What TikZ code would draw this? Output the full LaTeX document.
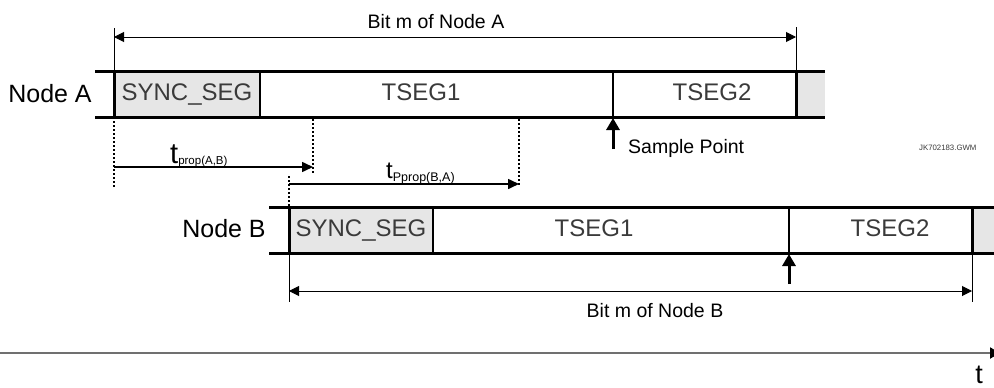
\documentclass[tikz,border=0pt]{standalone}
\usepackage{fontspec}
\setmainfont{Liberation Sans}
\usetikzlibrary{arrows.meta}
\definecolor{segGray}{HTML}{E6E6E6}
\definecolor{segText}{HTML}{3A3A3A}
\definecolor{axisGray}{HTML}{707070}
\begin{document}
\begin{tikzpicture}[x=1pt,y=-1pt,
  frame/.style={line width=3pt},
  divider/.style={line width=2pt},
  dimline/.style={line width=1pt, {Triangle[length=10pt,width=10pt]}-{Triangle[length=10pt,width=10pt]}},
  ext/.style={line width=0.8pt},
  proparrow/.style={line width=1.6pt, -{Triangle[length=11pt,width=10pt]}},
  dots/.style={line width=1.8pt, dash pattern=on 2pt off 2pt},
  sample/.style={line width=3pt, -{Triangle[length=12pt,width=13pt]}},
  lbl/.style={inner sep=0pt, anchor=base, font=\fontsize{25}{30}\selectfont},
  seglbl/.style={inner sep=0pt, anchor=base, text=segText, font=\fontsize{24}{28}\selectfont},
  smalllbl/.style={inner sep=0pt, anchor=base, font=\fontsize{19.5}{23}\selectfont},
]
\useasboundingbox (0,0) rectangle (994,388);

% ---------- Node A row ----------
\coordinate (A-tl) at (95,71);  \coordinate (A-tr) at (825,71);
\coordinate (A-bl) at (95,117); \coordinate (A-br) at (825,117);
\fill[segGray] (114,71) rectangle (260,117);
\fill[segGray] (796,71) rectangle (825,117);
\draw[frame] (A-tl) -- (A-tr);
\draw[frame] (A-bl) -- (A-br);
\draw[frame] (114,71) -- (114,117);
\draw[divider] (260,71) -- (260,117);
\draw[divider] (613,71) -- (613,117);
\draw[frame] (796,71) -- (796,117);

\node[lbl] (nodeA) at (50,102) {Node A};
\node[seglbl] (syncA) at (187,100) {SYNC\_SEG};
\node[seglbl] (tseg1A) at (421,100) {TSEG1};
\node[seglbl] (tseg2A) at (712,100) {TSEG2};

% Bit m of Node A
\coordinate (bA1) at (114,37);
\coordinate (bA2) at (796,37);
\draw[ext] (114,28) -- (114,71);
\draw[ext] (796,27) -- (796,71);
\draw[dimline] (bA1) -- (bA2);
\node[smalllbl] (bitA) at (436,28) {Bit m of Node A};

% Sample point A
\coordinate (spA0) at (613,149);
\coordinate (spA1) at (613,118);
\draw[sample] (spA0) -- (spA1);
\node[smalllbl, anchor=base west] (spAlbl) at (628,153) {Sample Point};
\node[inner sep=0pt, anchor=base west, text=segText, font=\fontsize{7.8}{9}\selectfont] (code) at (919,150) {JK702183.GWM};

% ---------- propagation ----------
\draw[dots] (114,121) -- (114,188);
\draw[dots] (313,119) -- (313,173);
\coordinate (p1s) at (114,167);
\coordinate (p1e) at (313,167);
\draw[proparrow] (p1s) -- (p1e);
\node[inner sep=0pt, anchor=base west] (tpAB) at (170,163)
  {\fontsize{29}{30}\selectfont t\raisebox{-1pt}{\fontsize{11.5}{12}\selectfont prop(A,B)}};

\draw[dots] (289,176) -- (289,206);
\draw[dots] (519,119) -- (519,186);
\coordinate (p2s) at (289,184);
\coordinate (p2e) at (519,184);
\draw[proparrow] (p2s) -- (p2e);
\node[inner sep=0pt, anchor=base west] (tpBA) at (386,178)
  {\fontsize{24}{26}\selectfont t\raisebox{-3pt}{\fontsize{12.5}{13}\selectfont Pprop(B,A)}};

% ---------- Node B row ----------
\coordinate (B-tl) at (269,207);  \coordinate (B-tr) at (994,207);
\coordinate (B-bl) at (269,253);  \coordinate (B-br) at (994,253);
\fill[segGray] (289,207) rectangle (433,253);
\fill[segGray] (972,207) rectangle (994,253);
\draw[frame] (B-tl) -- (B-tr);
\draw[frame] (B-bl) -- (B-br);
\draw[frame] (289,207) -- (289,253);
\draw[divider] (433,207) -- (433,253);
\draw[divider] (789,207) -- (789,253);
\draw[frame] (972,207) -- (972,253);

\node[lbl] (nodeB) at (224,237) {Node B};
\node[seglbl] (syncB) at (361,236) {SYNC\_SEG};
\node[seglbl] (tseg1B) at (594,236) {TSEG1};
\node[seglbl] (tseg2B) at (890,236) {TSEG2};

% Sample point B
\coordinate (spB0) at (789,284);
\coordinate (spB1) at (789,254);
\draw[sample] (spB0) -- (spB1);

% Bit m of Node B
\coordinate (bB1) at (289,291);
\coordinate (bB2) at (972,291);
\draw[ext] (289,253) -- (289,302);
\draw[ext] (972,253) -- (972,302);
\draw[dimline] (bB1) -- (bB2);
\node[smalllbl] (bitB) at (655,317) {Bit m of Node B};

% ---------- time axis ----------
\coordinate (ax0) at (0,353);
\coordinate (ax1) at (1000,353);
\draw[line width=2pt, axisGray, -{Triangle[length=10pt,width=11pt,fill=black,color=black]}] (ax0) -- (ax1);
\node[inner sep=0pt, anchor=base, font=\fontsize{27}{30}\selectfont] (tlbl) at (979,383) {t};
\end{tikzpicture}
\end{document}
